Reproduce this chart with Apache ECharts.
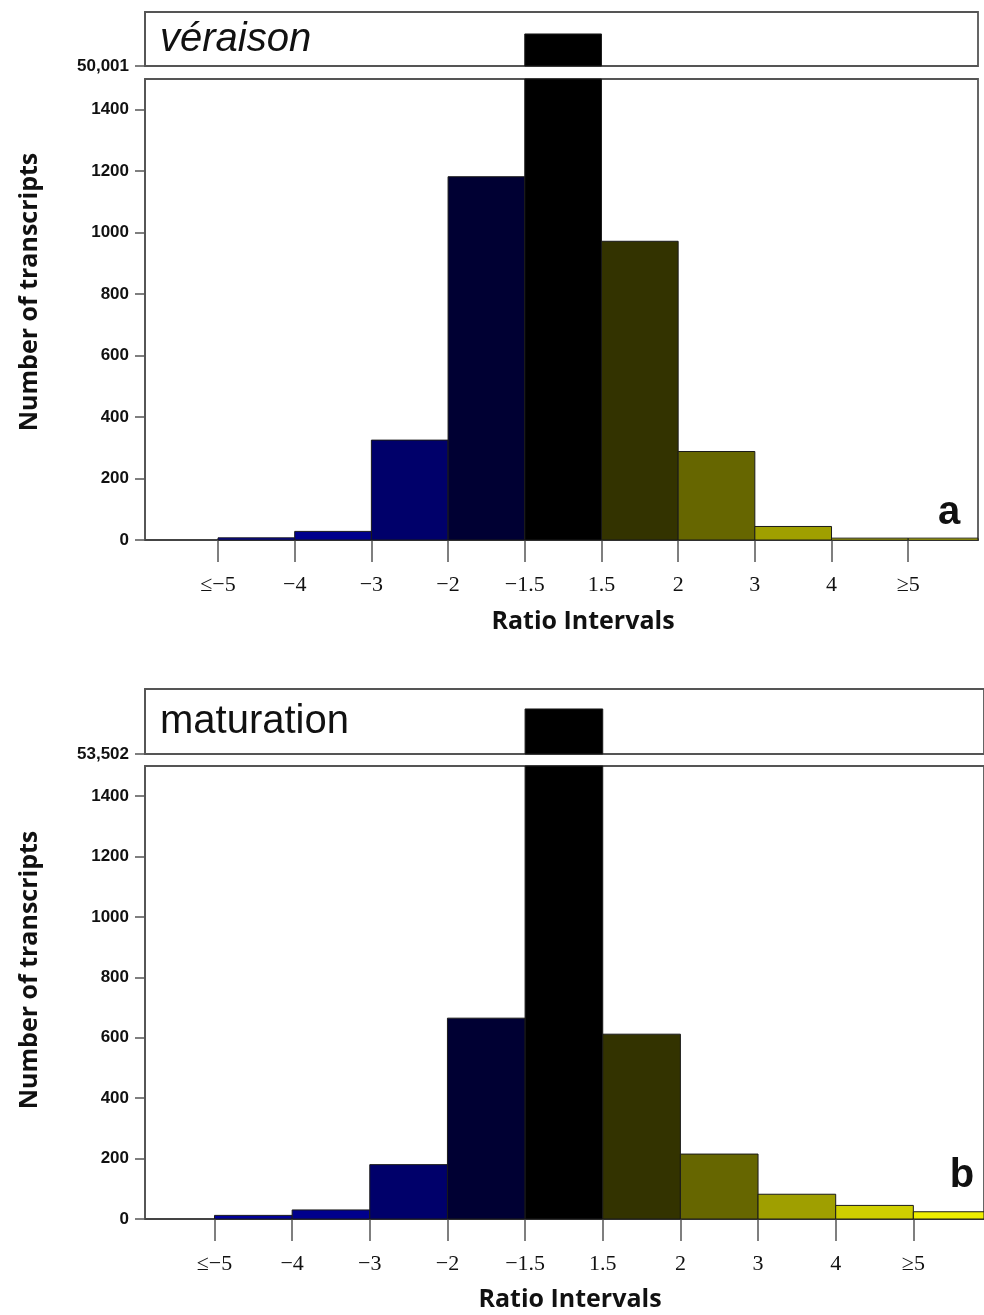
<!DOCTYPE html>
<html>
<head>
<meta charset="utf-8">
<script src="https://cdn.jsdelivr.net/npm/echarts@6/dist/echarts.min.js"></script>
<style>
html,body{margin:0;padding:0;background:#fff;}
#chart{width:984px;height:1315px;}
</style>
</head>
<body>
<div id="chart"></div>
<script>
// ---- data ----
const tickLabels = ['≤−5', '−4', '−3', '−2', '−1.5', '1.5', '2', '3', '4', '≥5'];
const tickPositions = [1, 2, 3, 4, 5, 6, 7, 8, 9, 10];
const binStart = [0, 1, 2, 3, 4, 5, 6, 7, 8, 9, 10];
const binEnd = [1, 2, 3, 4, 5, 6, 7, 8, 9, 10, 11];
const veraisonCounts = [0, 7, 28, 325, 1182, 51780, 972, 288, 44, 6, 6];
const maturationCounts = [0, 12, 30, 180, 665, 55580, 612, 215, 82, 45, 24];
const yTicks = [0, 200, 400, 600, 800, 1000, 1200, 1400];
const veraisonBreak = 50001;
const maturationBreak = 53502;
const binColors = ['#0000b0', '#00009a', '#00008c', '#00006a', '#000033', '#000000',
                   '#333300', '#666600', '#9f9f00', '#cfcf00', '#eeee00'];

const chart = echarts.init(document.getElementById('chart'));

function renderBar(params, api) {
  const x0 = api.value(0), x1 = api.value(1), v = api.value(2);
  if (!v) return;
  const p0 = api.coord([x0, 0]);
  const p1 = api.coord([x1, v]);
  const cs = params.coordSys;
  const rect = echarts.graphic.clipRectByRect(
    { x: p0[0], y: p1[1], width: p1[0] - p0[0], height: p0[1] - p1[1] },
    { x: cs.x, y: cs.y, width: cs.width, height: cs.height }
  );
  if (!rect) return;
  return {
    type: 'rect',
    shape: rect,
    style: { fill: binColors[params.dataIndex], stroke: '#1a1a1a', lineWidth: 1 }
  };
}

function binData(counts) {
  return binStart.map((s, i) => [s, binEnd[i], counts[i]]);
}

const gridStyle = { show: true, borderColor: '#555', borderWidth: 1.8, backgroundColor: 'transparent' };
const topRange = [0.048, 10.91];
const botRange = [0.105, 10.91];

function lowerX(gridIndex, range) {
  return {
    type: 'value', gridIndex, min: range[0], max: range[1],
    axisLine: { show: true, onZero: false, lineStyle: { color: '#444', width: 1.8 } },
    axisTick: { show: true, customValues: tickPositions, length: 22, lineStyle: { color: '#555', width: 1.5 } },
    axisLabel: {
      show: true, customValues: tickPositions, margin: 34,
      formatter: v => tickLabels[Math.round(v) - 1],
      fontFamily: 'Liberation Serif', fontSize: 22, color: '#111'
    },
    splitLine: { show: false }
  };
}
function upperX(gridIndex, range) {
  return { type: 'value', gridIndex, min: range[0], max: range[1], show: false, splitLine: { show: false } };
}
function lowerY(gridIndex) {
  return {
    type: 'value', gridIndex, min: 0, max: 1500,
    axisLine: { show: true, lineStyle: { color: '#555', width: 1.8 } },
    axisTick: { show: true, customValues: yTicks, length: 10, lineStyle: { color: '#555', width: 1.5 } },
    axisLabel: {
      show: true, customValues: yTicks, margin: 16,
      formatter: v => String(v),
      fontFamily: 'Liberation Sans', fontWeight: 'bold', fontSize: 17, color: '#111'
    },
    splitLine: { show: false }
  };
}
function upperY(gridIndex, breakVal) {
  return {
    type: 'value', gridIndex, min: breakVal, max: breakVal + 3000,
    axisLine: { show: true, lineStyle: { color: '#555', width: 1.8 } },
    axisTick: { show: true, customValues: [breakVal], length: 10, lineStyle: { color: '#555', width: 1.5 } },
    axisLabel: {
      show: true, customValues: [breakVal], margin: 16,
      formatter: v => v.toLocaleString('en-US'),
      fontFamily: 'Liberation Sans', fontWeight: 'bold', fontSize: 17, color: '#111'
    },
    splitLine: { show: false }
  };
}

function txt(x, y, text, font, extra) {
  return Object.assign({
    type: 'text', x, y, z: 10,
    style: Object.assign({
      text, font, fill: '#111',
      align: 'center', verticalAlign: 'middle',
      textAlign: 'center', textVerticalAlign: 'middle'
    }, (extra && extra.style) || {})
  }, (extra && extra.el) || {});
}

const option = {
  animation: false,
  backgroundColor: '#fff',
  grid: [
    Object.assign({ left: 145, right: 6, top: 12, height: 54 }, gridStyle),
    Object.assign({ left: 145, right: 6, top: 79, height: 461 }, gridStyle),
    Object.assign({ left: 145, right: -6, top: 689, height: 65 }, gridStyle),
    Object.assign({ left: 145, right: -6, top: 766, height: 453 }, gridStyle)
  ],
  xAxis: [upperX(0, topRange), lowerX(1, topRange), upperX(2, botRange), lowerX(3, botRange)],
  yAxis: [upperY(0, veraisonBreak), lowerY(1), upperY(2, maturationBreak), lowerY(3)],
  series: [
    { type: 'custom', xAxisIndex: 0, yAxisIndex: 0, renderItem: renderBar, encode: { x: [0, 1], y: 2 }, data: binData(veraisonCounts) },
    { type: 'custom', xAxisIndex: 1, yAxisIndex: 1, renderItem: renderBar, encode: { x: [0, 1], y: 2 }, data: binData(veraisonCounts) },
    { type: 'custom', xAxisIndex: 2, yAxisIndex: 2, renderItem: renderBar, encode: { x: [0, 1], y: 2 }, data: binData(maturationCounts) },
    { type: 'custom', xAxisIndex: 3, yAxisIndex: 3, renderItem: renderBar, encode: { x: [0, 1], y: 2 }, data: binData(maturationCounts) }
  ],
  graphic: [
    txt(160, 40, 'véraison', 'italic 40px "Liberation Sans"', { style: { align: 'left', textAlign: 'left' } }),
    txt(160, 722, 'maturation', '40px "Liberation Sans"', { style: { align: 'left', textAlign: 'left' } }),
    txt(949, 513, 'a', 'bold 40px "Liberation Sans"'),
    txt(962, 1176, 'b', 'bold 40px "Liberation Sans"'),
    txt(30, 292, 'Number of transcripts', 'bold 25px "Open Sans"', { el: { rotation: Math.PI / 2 } }),
    txt(30, 970, 'Number of transcripts', 'bold 25px "Open Sans"', { el: { rotation: Math.PI / 2 } }),
    txt(583, 622, 'Ratio Intervals', 'bold 25px "Open Sans"'),
    txt(570, 1300, 'Ratio Intervals', 'bold 25px "Open Sans"')
  ]
};
chart.setOption(option);
</script>
</body>
</html>
